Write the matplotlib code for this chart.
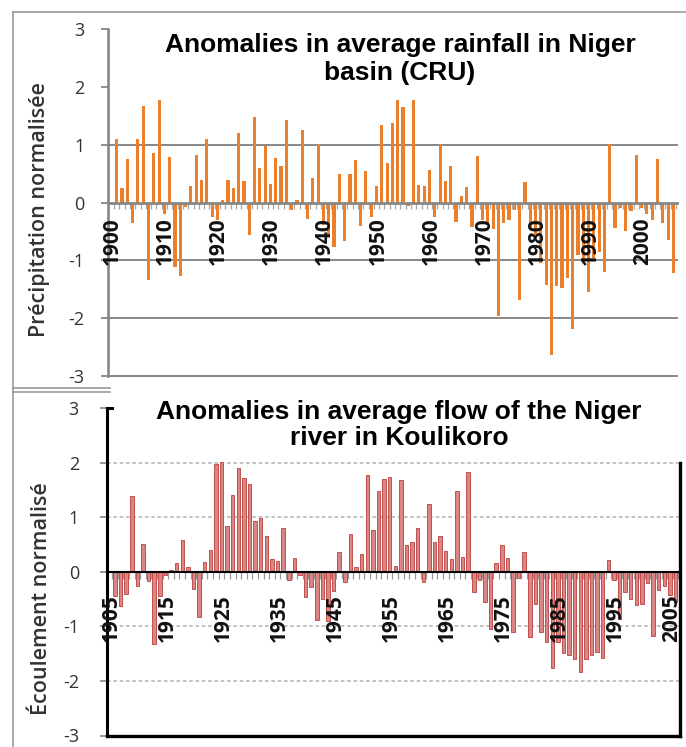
import matplotlib
matplotlib.use('Agg')
import matplotlib.pyplot as plt
from matplotlib.lines import Line2D
import numpy as np

# ---------------- data ----------------
rain_years = list(range(1900, 2006))
rain_values = [
    1.11, 0.26, 0.76, -0.36, 1.11, 1.67, -1.34, 0.86, 1.78, -0.19,   # 1900-1909
    0.79, -1.11, -1.27, -0.07, 0.29, 0.83, 0.40, 1.11, -0.25, -0.30,  # 1910-1919
    0.04, 0.40, 0.26, 1.21, 0.37, -0.56, 1.48, 0.60, 0.98, 0.32,      # 1920-1929
    0.78, 0.64, 1.43, -0.13, 0.04, 1.26, -0.29, 0.43, 1.02, -0.39,    # 1930-1939
    -0.59, -0.76, 0.49, -0.66, 0.49, 0.74, -0.40, 0.55, -0.25, 0.29,  # 1940-1949
    1.35, 0.68, 1.37, 1.78, 1.66, -0.06, 1.78, 0.31, 0.28, 0.56,      # 1950-1959
    -0.25, 1.02, 0.37, 0.63, -0.33, 0.11, 0.27, -0.42, 0.80, -0.30,   # 1960-1969
    -0.38, -0.45, -1.97, -0.35, -0.30, -0.12, -1.68, 0.36, -0.45, -0.60,  # 1970-1979
    -1.05, -1.43, -2.63, -1.45, -1.48, -1.30, -2.18, -0.90, -1.00, -1.55,  # 1980-1989
    -0.95, -0.85, -1.20, 1.02, -0.44, -0.10, -0.49, -0.15, 0.83, -0.10,   # 1990-1999
    -0.20, -0.30, 0.76, -0.35, -0.65, -1.22,                              # 2000-2005
]
rain_tick_labels = ['1900', '1910', '1920', '1930', '1940', '1950',
                    '1960', '1970', '1980', '1990', '2000']

flow_years = list(range(1905, 2006))
flow_values = [
    -0.45, -0.62, -0.41, 1.40, -0.26, 0.52, -0.17, -1.32, -0.45, -0.05,  # 1905-1914
    0.03, 0.17, 0.58, 0.09, -0.32, -0.82, 0.19, 0.41, 1.97, 2.01,         # 1915-1924
    0.85, 1.41, 1.90, 1.73, 1.62, 0.93, 0.99, 0.66, 0.24, 0.20,           # 1925-1934
    0.81, -0.15, 0.26, -0.05, -0.46, -0.27, -0.88, -0.50, -0.90, -0.35,   # 1935-1944
    0.37, -0.18, 0.70, 0.09, 0.32, 1.77, 0.76, 1.48, 1.71, 1.74,          # 1945-1954
    0.11, 1.68, 0.50, 0.54, 0.80, -0.18, 1.25, 0.55, 0.65, 0.38,          # 1955-1964
    0.23, 1.48, 0.27, 1.84, -0.37, -0.15, -0.55, -1.04, 0.17, 0.49,       # 1965-1974
    0.26, -1.10, -0.12, 0.36, -1.19, -0.58, -1.10, -1.28, -1.77, -1.28,   # 1975-1984
    -1.49, -1.52, -1.59, -1.84, -1.60, -1.52, -1.46, -1.58, 0.22, -0.15,  # 1985-1994
    -0.86, -0.37, -0.49, -0.61, -0.58, -0.20, -1.17, -0.34, -0.25, -0.43, # 1995-2004
    -0.55,                                                                # 2005
]
flow_tick_labels = ['1905', '1915', '1925', '1935', '1945', '1955',
                    '1965', '1975', '1985', '1995', '2005']

y_ticks = [-3, -2, -1, 0, 1, 2, 3]

title_top = "Anomalies in average rainfall in Niger\nbasin (CRU)"
title_bottom = "Anomalies in average flow of the Niger\nriver in Koulikoro"
ylabel_top = "Précipitation normalisée"
ylabel_bottom = "Écoulement normalisé"

# ---------------- figure ----------------
W, H = 686, 747
fig = plt.figure(figsize=(W / 100, H / 100), dpi=100)
fig.patch.set_facecolor('white')


def fx(px):
    return px / W


def fy(py):
    return 1 - py / H


TICK_FONT = ['Open Sans', 'DejaVu Sans']
TITLE_FONT = ['Liberation Sans', 'DejaVu Sans']
GRAY = '#878787'

# ---------- top chart ----------
ax1 = fig.add_axes([fx(108.3), fy(376), fx(676.7) - fx(108.3), fy(29.3) - fy(376)])
ax1.bar(rain_years, rain_values, width=0.6, color='#EB7F2B', zorder=3)
ax1.set_xlim(1898.42, 2005.62)
ax1.set_ylim(-3, 3)
for s in ['top', 'right']:
    ax1.spines[s].set_visible(False)
ax1.spines['left'].set_color(GRAY)
ax1.spines['left'].set_linewidth(1.9)
ax1.spines['bottom'].set_position(('data', 0))
ax1.spines['bottom'].set_color(GRAY)
ax1.spines['bottom'].set_linewidth(2.0)
ax1.spines['bottom'].set_zorder(4)
for v in [1, -1, -2, -3]:
    ax1.axhline(v, color=GRAY, lw=1.4, zorder=1, clip_on=False)
ax1.set_yticks(y_ticks)
ax1.set_yticklabels([str(t) for t in y_ticks], fontsize=13, color='#333333',
                    family=TICK_FONT)
ax1.tick_params(axis='y', direction='out', length=5, width=1.3, color=GRAY, pad=12)
ax1.set_xticks(np.array(rain_years + [rain_years[-1] + 1]) - 0.5)
ax1.set_xticklabels([])
ax1.tick_params(axis='x', direction='out', length=4.5, width=0.9, color='#a8a8a8')
for lbl in rain_tick_labels:
    ax1.annotate(lbl, xy=(int(lbl), 0), xytext=(-4, -15), textcoords='offset pixels',
                 rotation=90, ha='center', va='top', fontsize=15,
                 fontweight='bold', family=TICK_FONT, color='#111111', zorder=5)

# ---------- bottom chart ----------
ax2 = fig.add_axes([fx(106.7), fy(735.5), fx(679.5) - fx(106.7), fy(408.3) - fy(735.5)])
ax2.bar(flow_years, flow_values, width=0.62, color='#DC8585', edgecolor='#C0504D',
        linewidth=0.7, zorder=3)
ax2.set_xlim(1903.52, 2005.7)
ax2.set_ylim(-3, 3)
for s in ['top', 'right']:
    ax2.spines[s].set_visible(False)
ax2.spines['left'].set_color('black')
ax2.spines['left'].set_linewidth(2.2)
ax2.spines['bottom'].set_position(('data', 0))
ax2.spines['bottom'].set_color('black')
ax2.spines['bottom'].set_linewidth(1.5)
ax2.spines['bottom'].set_zorder(4)
for v in [2, 1, -1, -2]:
    ax2.axhline(v, color='#bdbdbd', lw=1.3, ls=(0, (2, 1.5)), zorder=1)
# frame: bottom and partial right side, small top-left segment
ax2.plot([0, 1], [0, 0], transform=ax2.transAxes, color='black', lw=2.4,
         clip_on=False, solid_capstyle='projecting', zorder=6)
ax2.plot([1, 1], [0, (735.5 - 463) / (735.5 - 408.3)], transform=ax2.transAxes,
         color='black', lw=2.4, clip_on=False, solid_capstyle='projecting', zorder=6)
ax2.plot([0, 0.01], [1, 1], transform=ax2.transAxes, color='black', lw=2.2,
         clip_on=False, zorder=6)
ax2.set_yticks(y_ticks)
ax2.set_yticklabels([str(t) for t in y_ticks], fontsize=13, color='#333333',
                    family=TICK_FONT)
ax2.tick_params(axis='y', direction='out', length=5, width=1.2, color=GRAY, pad=15)
ax2.set_xticks(np.array(flow_years + [flow_years[-1] + 1]) - 0.5)
ax2.set_xticklabels([])
ax2.tick_params(axis='x', direction='out', length=5, width=0.9, color='#9a9a9a')
for lbl in flow_tick_labels:
    ax2.annotate(lbl, xy=(int(lbl), 0), xytext=(-4, -22), textcoords='offset pixels',
                 rotation=90, ha='center', va='top', fontsize=15,
                 fontweight='bold', family=TICK_FONT, color='#111111', zorder=5)

# ---------- titles & labels ----------
fig.text(fx(400), fy(59), title_top, ha='center', va='center', fontsize=19,
         fontweight='bold', family=TITLE_FONT, linespacing=1.17, color='black')
fig.text(fx(399), fy(425), title_bottom, ha='center', va='center', fontsize=19,
         fontweight='bold', family=TITLE_FONT, linespacing=1.08, color='black',
         bbox=dict(facecolor='white', edgecolor='none', pad=1), zorder=10)
fig.text(fx(40), fy(210), ylabel_top, rotation=90, ha='center', va='center',
         fontsize=15.5, fontweight='semibold', family=TICK_FONT, color='#333333')
fig.text(fx(41.7), fy(599), ylabel_bottom, rotation=90, ha='center', va='center',
         fontsize=15.5, fontweight='semibold', family=TICK_FONT, color='#333333')

# ---------- gray frame of the upper chart ----------
fg = '#9a9a9a'
fig.add_artist(Line2D([fx(12.7), fx(686)], [fy(11.7), fy(11.7)], color=fg, lw=1.2))
fig.add_artist(Line2D([fx(12.7), fx(12.7)], [fy(11.7), fy(747)], color=fg, lw=1.2))
fig.add_artist(Line2D([fx(12.7), fx(110)], [fy(388.3), fy(388.3)], color=fg, lw=1.2))
fig.add_artist(Line2D([fx(12.7), fx(110)], [fy(391.7), fy(391.7)], color=fg, lw=1.2))

fig.savefig('out.png', dpi=100, facecolor='white')
